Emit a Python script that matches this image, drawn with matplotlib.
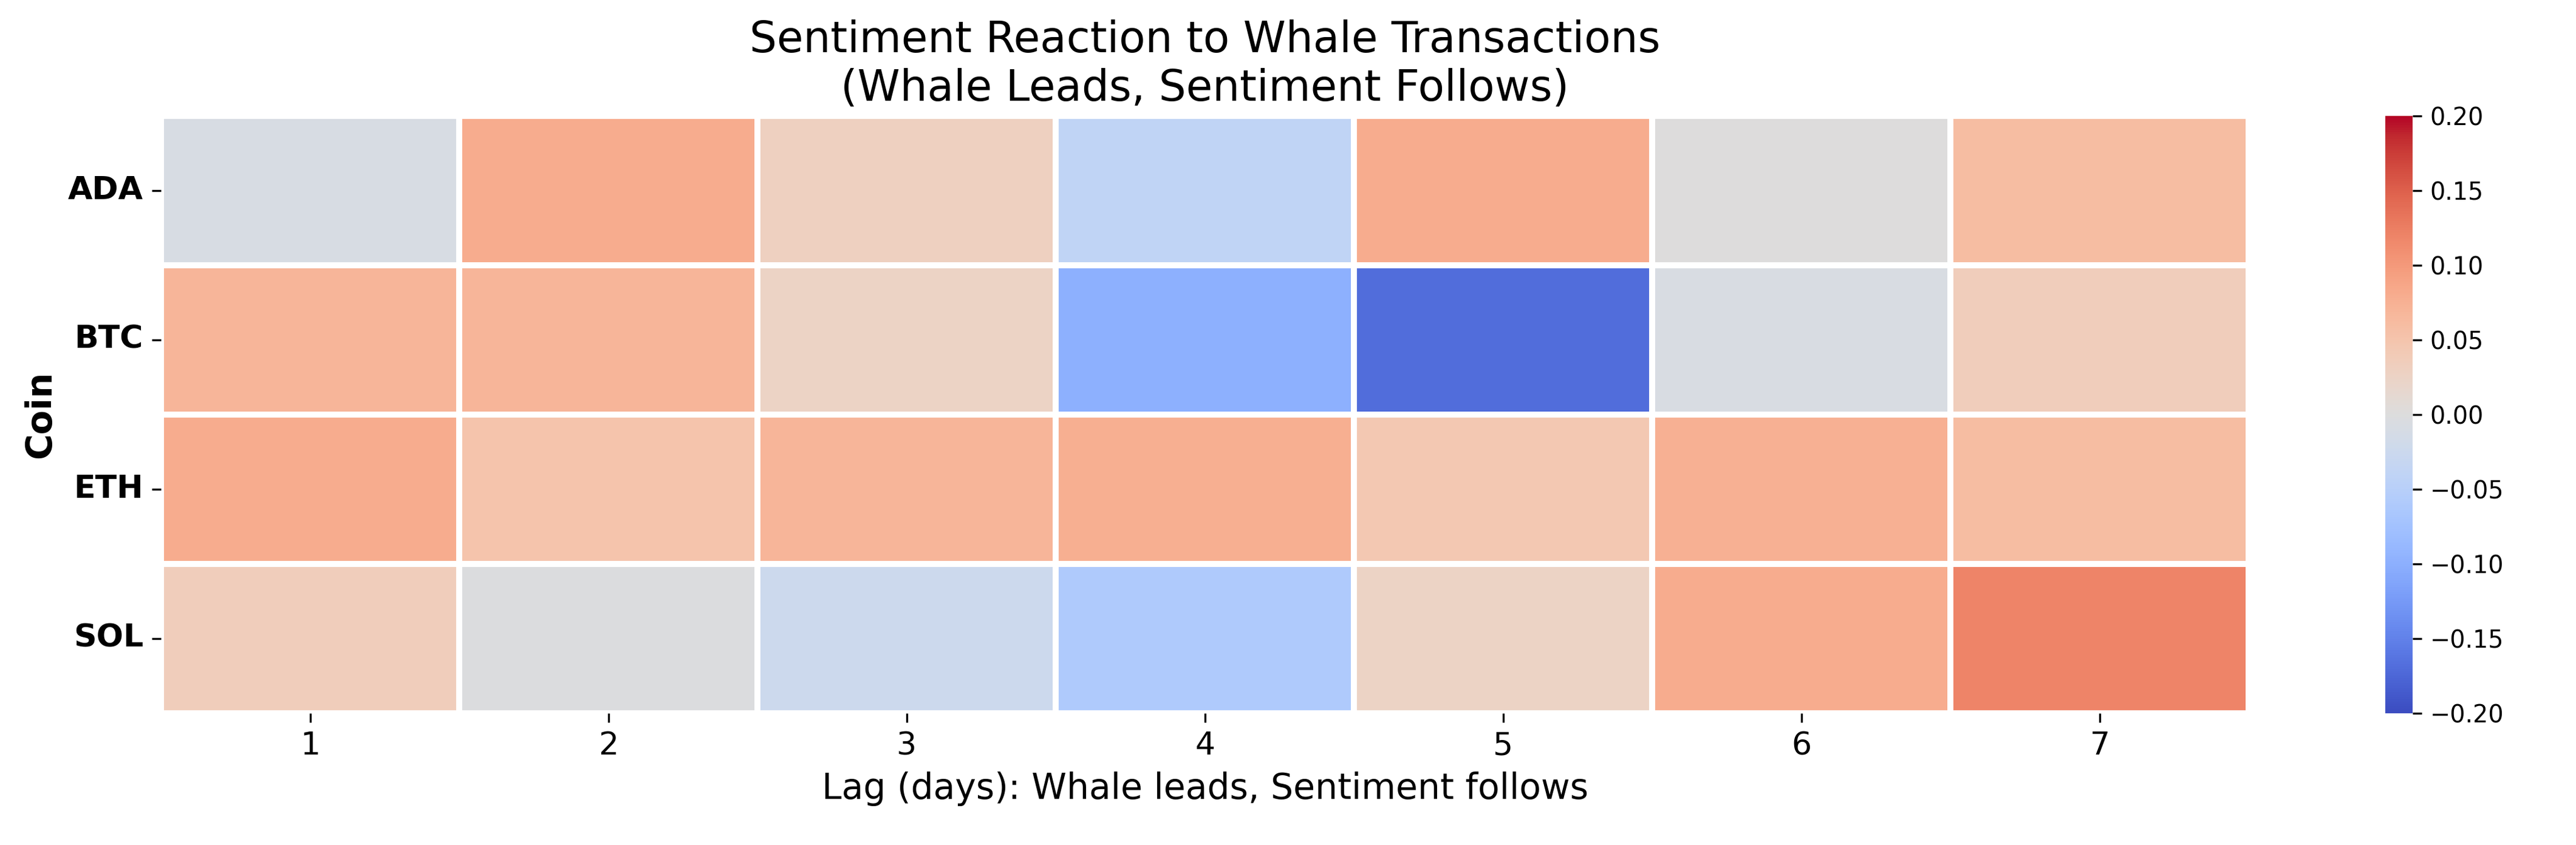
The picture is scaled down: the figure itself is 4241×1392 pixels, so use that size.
import matplotlib
matplotlib.use("Agg")
import matplotlib.pyplot as plt
import seaborn as sns
import pandas as pd

coins = ["ADA", "BTC", "ETH", "SOL"]
lags = [1, 2, 3, 4, 5, 6, 7]
ada = [-0.008, 0.08, 0.03, -0.04, 0.08, 0.0, 0.06]
btc = [0.07, 0.07, 0.025, -0.1, -0.17, -0.007, 0.035]
eth = [0.08, 0.05, 0.07, 0.077, 0.045, 0.075, 0.06]
sol = [0.035, -0.003, -0.025, -0.06, 0.025, 0.08, 0.12]

df = pd.DataFrame([ada, btc, eth, sol], index=coins, columns=lags)

fig = plt.figure(figsize=(4241 / 300, 1392 / 300))
ax = fig.add_axes([0.0625, 0.156, 0.8105, 0.707])
cax = fig.add_axes([0.926, 0.156, 0.0105, 0.707])

sns.heatmap(df, ax=ax, cbar_ax=cax, cmap="coolwarm", vmin=-0.2, vmax=0.2,
            linewidths=2, linecolor="white")

ax.set_title("Sentiment Reaction to Whale Transactions\n(Whale Leads, Sentiment Follows)",
             fontsize=17)
ax.set_xlabel("Lag (days): Whale leads, Sentiment follows", fontsize=14)
ax.set_ylabel("Coin", fontsize=14, fontweight="bold")
ax.tick_params(axis="x", labelsize=12.5)
ax.set_yticklabels(coins, rotation=0, fontsize=12.5, fontweight="bold")
cax.tick_params(labelsize=9.5)

plt.savefig("out.png", dpi=300)
plt.close()
